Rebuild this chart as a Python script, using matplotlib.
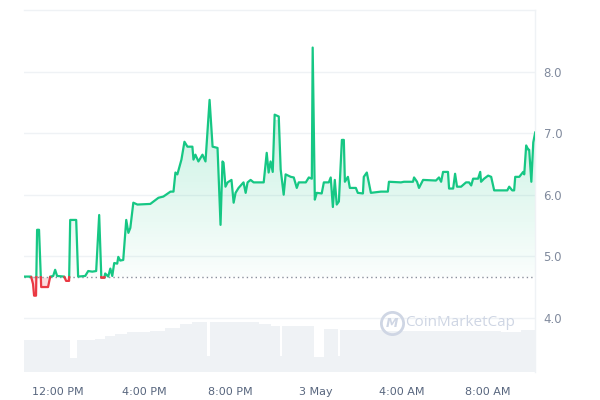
import numpy as np
import matplotlib.pyplot as plt
from matplotlib.lines import Line2D

# ── data ───────────────────────────────────────────────────────────────────────
# time in hours from midnight 2 May (24 = 3 May 00:00)
hours = [10.41, 10.74, 10.83, 10.88, 10.97, 11.02, 11.11, 11.21, 11.53, 11.63,
         11.77, 11.86, 11.95, 12.28, 12.37, 12.51, 12.56, 12.84, 12.93, 13.26,
         13.40, 13.59, 13.77, 13.91, 14.01, 14.15, 14.19, 14.33, 14.43, 14.52,
         14.61, 14.75, 14.80, 14.89, 15.03, 15.17, 15.27, 15.36, 15.50, 15.69,
         16.29, 16.67, 16.90, 17.23, 17.37, 17.46, 17.55, 17.74, 17.88, 18.02,
         18.25, 18.30, 18.39, 18.53, 18.72, 18.86, 19.05, 19.19, 19.42, 19.56,
         19.65, 19.70, 19.79, 19.89, 20.07, 20.17, 20.26, 20.40, 20.63, 20.73,
         20.82, 20.96, 21.10, 21.57, 21.71, 21.80, 21.89, 21.99, 22.08, 22.27,
         22.36, 22.50, 22.59, 22.83, 22.97, 23.11, 23.20, 23.53, 23.67, 23.81,
         23.85, 23.95, 24.04, 24.27, 24.37, 24.60, 24.69, 24.79, 24.88, 24.97,
         25.07, 25.21, 25.30, 25.35, 25.49, 25.58, 25.86, 25.95, 26.19, 26.23,
         26.37, 26.56, 27.03, 27.35, 27.40, 27.96, 28.10, 28.52, 28.57, 28.71,
         28.80, 28.99, 29.59, 29.73, 29.83, 29.92, 30.15, 30.20, 30.39, 30.48,
         30.57, 30.76, 30.99, 31.13, 31.23, 31.32, 31.55, 31.65, 31.69, 31.83,
         32.02, 32.16, 32.30, 32.53, 32.91, 33.00, 33.14, 33.23, 33.28, 33.47,
         33.65, 33.70, 33.79, 33.89, 33.93, 34.03, 34.12, 34.21]
price = [4.67, 4.67, 4.55, 4.36, 4.36, 5.43, 5.43, 4.50, 4.50, 4.67,
         4.68, 4.78, 4.68, 4.67, 4.60, 4.60, 5.59, 5.59, 4.67, 4.68,
         4.76, 4.75, 4.76, 5.67, 4.65, 4.65, 4.72, 4.67, 4.80, 4.68,
         4.89, 4.88, 4.99, 4.93, 4.94, 5.59, 5.38, 5.46, 5.87, 5.84,
         5.85, 5.95, 5.97, 6.05, 6.05, 6.36, 6.33, 6.57, 6.86, 6.78,
         6.78, 6.57, 6.65, 6.54, 6.65, 6.54, 7.54, 6.78, 6.76, 5.51,
         6.54, 6.52, 6.13, 6.20, 6.24, 5.87, 6.03, 6.11, 6.20, 6.03,
         6.20, 6.24, 6.20, 6.20, 6.68, 6.36, 6.54, 6.37, 7.30, 7.27,
         6.41, 6.00, 6.33, 6.29, 6.28, 6.11, 6.20, 6.20, 6.28, 6.26,
         8.39, 5.92, 6.03, 6.02, 6.20, 6.20, 6.28, 5.80, 6.24, 5.84,
         5.89, 6.89, 6.89, 6.21, 6.29, 6.11, 6.11, 6.03, 6.02, 6.29,
         6.36, 6.03, 6.05, 6.05, 6.21, 6.20, 6.21, 6.21, 6.28, 6.21,
         6.11, 6.24, 6.23, 6.28, 6.21, 6.37, 6.37, 6.10, 6.10, 6.34,
         6.13, 6.13, 6.20, 6.20, 6.15, 6.26, 6.26, 6.37, 6.21, 6.26,
         6.31, 6.29, 6.07, 6.07, 6.07, 6.13, 6.07, 6.07, 6.29, 6.29,
         6.37, 6.33, 6.80, 6.73, 6.73, 6.21, 6.85, 7.01]
open_price = 4.66

# volume blocks: start hour and volume (arbitrary units)
vol_start = [10.41, 12.56, 12.89, 13.73, 14.19, 14.66, 15.22, 16.29, 16.99,
             17.69, 18.25, 18.95, 19.09, 21.33, 21.89, 22.31, 22.41, 23.90,
             24.37, 25.02, 25.11, 27.26, 30.29, 32.62, 33.56]
vol_value = [32, 14, 32, 33, 36, 38, 40, 41, 44,
             48, 50, 16, 50.5, 48, 46, 16, 46, 15,
             43, 16, 42, 41, 41, 40, 42]
vol_end = 34.21

tick_hours = [12, 16, 20, 24, 28, 32]
tick_labels = ['12:00 PM', '4:00 PM', '8:00 PM', '3 May', '4:00 AM', '8:00 AM']
price_ticks = [4.0, 5.0, 6.0, 7.0, 8.0]

GREEN = '#16c784'
RED = '#ea3943'

# ── figure ─────────────────────────────────────────────────────────────────────
fig = plt.figure(figsize=(6, 4), dpi=100)
fig.patch.set_facecolor('white')
ax_vol = fig.add_axes([0.04, 0.07, 0.852, 0.905])
ax = fig.add_axes([0.04, 0.07, 0.852, 0.905], sharex=ax_vol)
ax.patch.set_visible(False)

# volume
edges = vol_start + [vol_end]
widths = np.diff(edges)
ax_vol.bar(vol_start, vol_value, width=widths, align='edge', color='#eff2f5',
           edgecolor='none', zorder=1)
ax_vol.set_ylim(0, 362)
ax_vol.set_yticks([])
for s in ax_vol.spines.values():
    s.set_visible(False)
ax_vol.tick_params(axis='x', length=0, labelbottom=False)

# split the line where it crosses the opening price
t = np.array(hours)
p = np.array(price)
tt, pp = [t[0]], [p[0]]
for i in range(1, len(t)):
    a, b = p[i - 1] - open_price, p[i] - open_price
    if a * b < 0:
        tt.append(t[i - 1] + (t[i] - t[i - 1]) * a / (a - b))
        pp.append(open_price)
    tt.append(t[i])
    pp.append(p[i])
tt, pp = np.array(tt), np.array(pp)

# green gradient fill above open
poly = ax.fill_between(tt, np.maximum(pp, open_price), open_price,
                       facecolor='none', edgecolor='none')
grad = np.linspace(0, 1, 256).reshape(-1, 1)
rgba = np.zeros((256, 1, 4))
rgba[..., 0], rgba[..., 1], rgba[..., 2] = 0.086, 0.78, 0.52
rgba[..., 3] = 0.02 + 0.2 * grad
im = ax.imshow(rgba, extent=[tt[0], tt[-1], open_price, 7.2], origin='lower',
               aspect='auto', zorder=2, interpolation='bilinear')
im.set_clip_path(poly.get_paths()[0], ax.transData)

# red fill below open
ax.fill_between(tt, np.minimum(pp, open_price), open_price,
                color=RED, alpha=0.18, lw=0, zorder=2)

up = np.where(pp >= open_price, pp, np.nan)
dn = np.where(pp <= open_price, pp, np.nan)
ax.plot(tt, up, color=GREEN, lw=1.6, zorder=4, solid_joinstyle='round')
ax.plot(tt, dn, color=RED, lw=1.6, zorder=4, solid_joinstyle='round')

ax.axhline(open_price, color='#8a8f9c', lw=1, ls=(0, (1, 2.2)), zorder=3)

# axes styling
ax.set_xlim(hours[0], vol_end)
ax.set_ylim(3.12, 9.0)
ax.set_yticks(price_ticks)
ax.set_yticklabels([f'{v:.1f}' for v in price_ticks])
ax.yaxis.tick_right()
ax.tick_params(axis='y', length=0, pad=6, labelsize=8.5, labelcolor='#808a9d')
ax.grid(axis='y', color='#eff2f5', lw=1, zorder=0)
ax.set_xticks(tick_hours)
ax.set_xticklabels(tick_labels)
ax.tick_params(axis='x', length=0, pad=11, labelsize=8, labelcolor='#58667e')
for side in ['left', 'bottom']:
    ax.spines[side].set_visible(False)
ax.spines['right'].set_color('#eff2f5')
ax.spines['top'].set_color('#eff2f5')
ax.spines['right'].set_linewidth(1)
ax.spines['top'].set_linewidth(1)

# watermark
fig.text(0.675, 0.193, 'CoinMarketCap', fontsize=11, color='#cfd6e4',
         ha='left', va='center', family='Open Sans')
fig.add_artist(Line2D([0.653], [0.193], marker='o', markersize=16,
                      mfc='none', mec='#cfd6e4', mew=2, transform=fig.transFigure))
fig.text(0.653, 0.192, 'M', fontsize=9, color='#cfd6e4', ha='center',
         va='center', fontweight='bold', style='italic')

fig.savefig('out.png', dpi=100)
